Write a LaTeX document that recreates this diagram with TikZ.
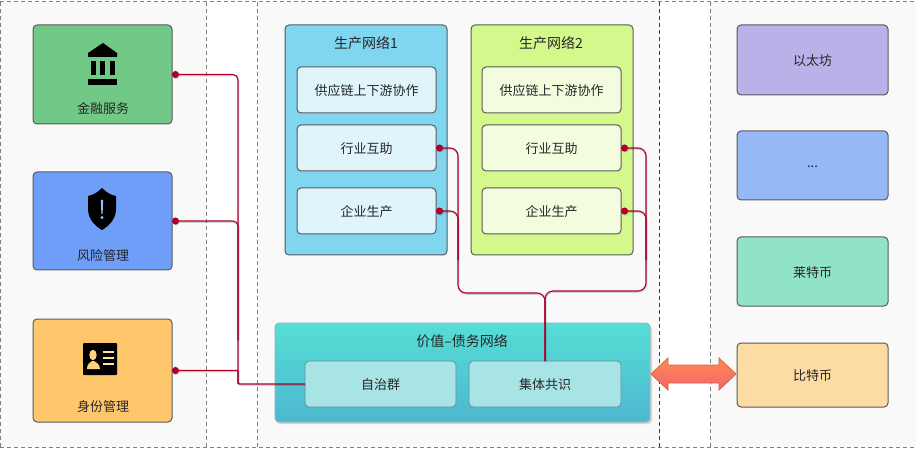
\documentclass[tikz,border=0pt]{standalone}
\usepackage{fontspec}
\setmainfont{Noto Sans CJK SC}
\usetikzlibrary{arrows.meta}
\definecolor{pan}{HTML}{F9F9F9}
\definecolor{edge}{HTML}{5A5A5A}
\definecolor{dashc}{HTML}{808080}
\definecolor{red1}{HTML}{B0002A}
\definecolor{cfin}{HTML}{72C987}
\definecolor{crisk}{HTML}{6F9EF8}
\definecolor{cidn}{HTML}{FFC76C}
\definecolor{cshield}{HTML}{9DBBF5}
\definecolor{cperson}{HTML}{FFD27F}
\definecolor{clines}{HTML}{FFE3A8}
\definecolor{cnetA}{HTML}{80D5EF}
\definecolor{cnetB}{HTML}{D5F88C}
\definecolor{cinA}{HTML}{DFF4FB}
\definecolor{cinB}{HTML}{F3FCDF}
\definecolor{cvaledge}{HTML}{7FB8C4}
\definecolor{cvaltop}{HTML}{56DED5}
\definecolor{cvalbot}{HTML}{4DB7D0}
\definecolor{cinedge}{HTML}{5F8F98}
\definecolor{cinval}{HTML}{A8E3E6}
\definecolor{ceth}{HTML}{B8B2E9}
\definecolor{cdots}{HTML}{96B8F6}
\definecolor{cltc}{HTML}{90E3C5}
\definecolor{cbtc}{HTML}{FDDCA3}
\definecolor{carrowedge}{HTML}{D8653A}
\definecolor{carrowtop}{HTML}{FF8A4E}
\definecolor{carrowbot}{HTML}{F26470}
\newcommand{\lowered}[1]{\raisebox{-1pt}[\height][\depth]{#1}}
\tikzset{
 x=1pt,y=-1pt,
 every node/.style={font=\fontsize{13}{15}\selectfont,text=black!85,inner sep=0pt,outer sep=0pt},
 titletext/.style={font=\fontsize{14}{16}\selectfont},
 box/.style={draw=edge,line width=1pt,rounded corners=4pt,anchor=north west},
 valin/.style={anchor=north west,draw=cinedge,line width=.8pt,rounded corners=4pt,fill=cinval,minimum height=46pt},
 panelfill/.style={fill=pan,draw=none},
 divider/.style={draw=dashc,line width=1pt,dash pattern=on 4pt off 3pt},
 wire/.style={draw=red1,line width=1.1pt,rounded corners=8pt,
   preaction={draw=black,opacity=.15,line width=1.6pt,transform canvas={xshift=.6pt,yshift=-1pt}}},
 dotwire/.style={wire,{Circle[length=7pt,width=7pt,fill=red1]}-},
 icon/.style={fill=black,draw=none},
}
\begin{document}
\begin{tikzpicture}
\useasboundingbox (0,0) rectangle (916,449);
\fill[white] (0,0) rectangle (916,449);
\fill[panelfill] (0,2) rectangle (206,447);
\fill[panelfill] (257,2) rectangle (659,447);
\fill[panelfill] (710,2) rectangle (916,447);
\draw[divider] (0,2) -- (916,2);
\draw[divider] (0,447) -- (916,447);
\draw[divider] (0.5,2) -- (0.5,447);
\draw[divider] (206,2) -- (206,447);
\draw[divider] (257,2) -- (257,447);
\draw[divider,draw=black!75] (659,2) -- (659,447);
\draw[divider] (710,2) -- (710,447);

% left column
\node[box,fill=cfin,minimum width=139pt,minimum height=99pt] (fin) at (33,25) {};
\node[box,fill=crisk,minimum width=139pt,minimum height=98pt] (risk) at (33,172) {};
\node[box,fill=cidn,minimum width=139pt,minimum height=103pt] (idn) at (33,319) {};
\node (fint) at (103,109) {金融服务};
\node (riskt) at (103,256) {风险管理};
\node (idnt) at (103,407) {身份管理};

% bank icon
\fill[icon] (103,43) -- (117,53) -- (117,57) -- (88,57) -- (88,53) -- cycle;
\fill[icon] (91,61) rectangle (96,75);
\fill[icon] (100,61) rectangle (105,75);
\fill[icon] (110,61) rectangle (115,75);
\fill[icon] (88,79) rectangle (117,85);
% shield icon
\fill[icon] (102,188) .. controls (97,193) and (93,195) .. (88,196)
  -- (88,209) .. controls (88,219) and (95,226) .. (102,230)
  .. controls (109,226) and (116,219) .. (116,209) -- (116,196)
  .. controls (111,195) and (107,193) .. (102,188) -- cycle;
\fill[cshield] (100.8,200) -- (103.2,200) -- (102.6,214) -- (101.4,214) -- cycle;
\fill[cshield] (102,217.5) circle (1.7);
% id icon
\fill[icon,rounded corners=1pt] (83,343) rectangle (117,375);
\fill[cperson] (93,355) ellipse (3.7 and 5.2);
\fill[cperson] (87,369) .. controls (87,364) and (90,362.5) .. (92,361) -- (94,361)
  .. controls (96,362.5) and (100,364) .. (100,369) -- cycle;
\fill[clines] (103,351.3) rectangle (114,352.7);
\fill[clines] (103,357.3) rectangle (114,358.7);
\fill[clines] (103,363.3) rectangle (114,364.7);

% production networks
\node[box,fill=cnetA,minimum width=162pt,minimum height=230pt] (net1) at (285,25) {};
\node[box,fill=cnetB,minimum width=162pt,minimum height=230pt] (net2) at (471,25) {};
\node[titletext] (net1t) at (366,43.5) {生产网络1};
\node[titletext] (net2t) at (551,43.5) {生产网络2};
\node[box,fill=cinA,minimum width=139pt,minimum height=46pt] (sc1) at (297,67) {\lowered{供应链上下游协作}};
\node[box,fill=cinA,minimum width=139pt,minimum height=46pt] (hy1) at (297,125) {\lowered{行业互助}};
\node[box,fill=cinA,minimum width=139pt,minimum height=46pt] (qy1) at (297,188) {\lowered{企业生产}};
\node[box,fill=cinB,minimum width=139pt,minimum height=46pt] (sc2) at (482,67) {\lowered{供应链上下游协作}};
\node[box,fill=cinB,minimum width=139pt,minimum height=46pt] (hy2) at (482,125) {\lowered{行业互助}};
\node[box,fill=cinB,minimum width=139pt,minimum height=46pt] (qy2) at (482,188) {\lowered{企业生产}};

% value network
\fill[black,opacity=.15,rounded corners=4pt] (276,325) rectangle (652,424);
\node[anchor=north west,draw=cvaledge,line width=.8pt,rounded corners=4pt,top color=cvaltop,bottom color=cvalbot,minimum width=375pt,minimum height=99pt] (val) at (275,323) {};
\node[titletext] (valt) at (462,341.5) {价值–债务网络};
\node[valin,minimum width=151pt] (zz) at (305,361) {\lowered{自治群}};
\node[valin,minimum width=152pt] (jt) at (469,361) {\lowered{集体共识}};

% right column
\node[box,fill=ceth,minimum width=151pt,minimum height=70pt] (eth) at (737,25) {\lowered{以太坊}};
\node[box,fill=cdots,minimum width=151pt,minimum height=69pt] (dots) at (737,131) {\lowered{...}};
\node[box,fill=cltc,minimum width=151pt,minimum height=69pt] (ltc) at (737,237) {\lowered{莱特币}};
\node[box,fill=cbtc,minimum width=151pt,minimum height=64pt] (btc) at (737,343) {\lowered{比特币}};

% connectors
\coordinate (trunk) at (238,384);
\coordinate (trunkUp) at (238,340);
\coordinate (colL) at (458,293);
\coordinate (colLUp) at (458,260);
\coordinate (colR) at (646,291);
\coordinate (colRUp) at (646,260);
\draw[dotwire,rounded corners=5pt] (fin.east) -| (trunkUp);
\draw[dotwire,rounded corners=5pt] (risk.east) -| (trunkUp);
\draw[wire,rounded corners=1.5pt] (trunkUp) -- (trunk) -- (zz.west);
\draw[dotwire,rounded corners=1pt] (idn.east) -| (trunk);
\draw[dotwire] (hy1.east) -| (colLUp);
\draw[dotwire] (qy1.east) -| (colLUp);
\draw[wire] (colLUp) -- (colL) -| (jt.north);
\draw[dotwire] (hy2.east) -| (colRUp);
\draw[dotwire] (qy2.east) -| (colRUp);
\draw[wire] (colRUp) -- (colR) -| (jt.north);

% double arrow
\path (val.east) ++(1,1.5) coordinate (arrL);
\path (btc.west) ++(-1,-1) coordinate (arrR);
\draw[draw=carrowedge,line width=.8pt,top color=carrowtop,bottom color=carrowbot]
  (arrL) -- ++(17,-16) -- ++(0,7) -- ++(51,0) -- ++(0,-7) -- (arrR)
  -- ++(-17,16) -- ++(0,-7) -- ++(-51,0) -- ++(0,7) -- cycle;
\end{tikzpicture}
\end{document}
